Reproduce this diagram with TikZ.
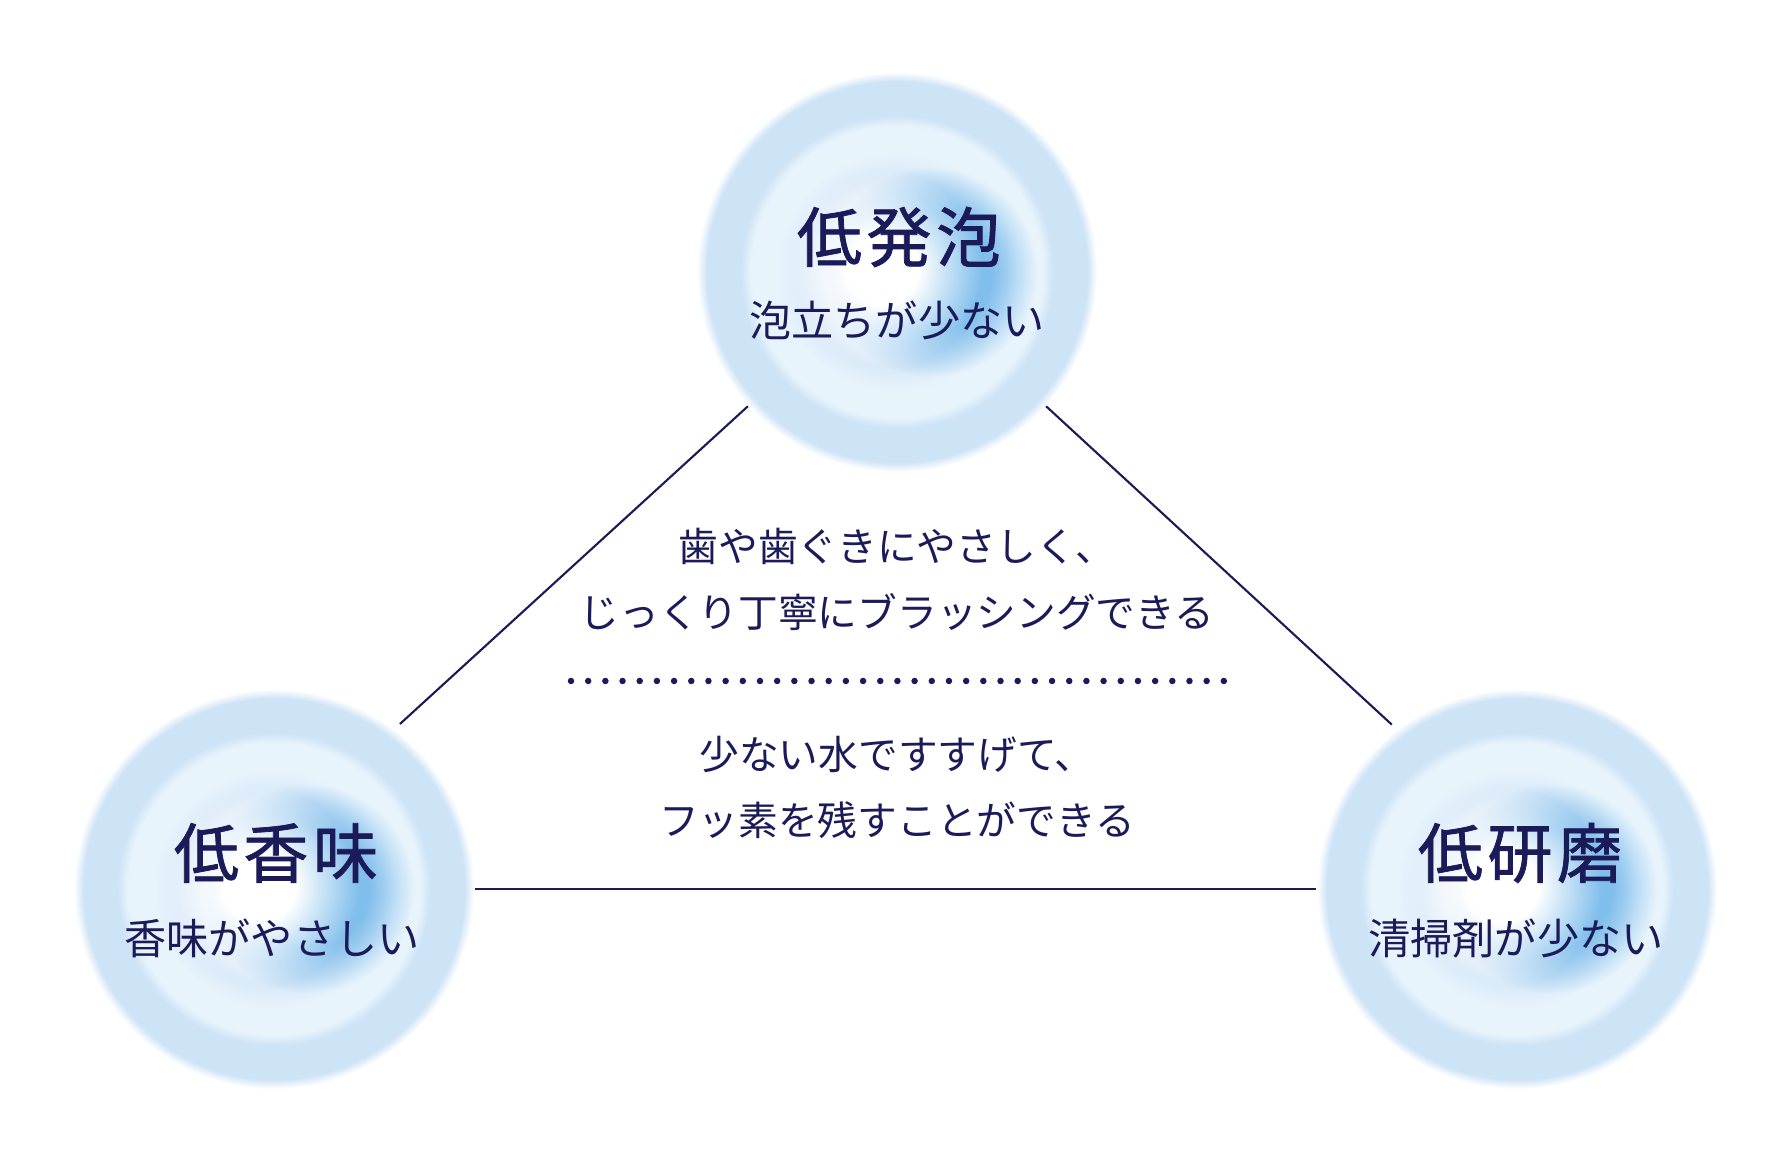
\documentclass[tikz,border=0pt]{standalone}
\usepackage{fontspec}
\setmainfont{Noto Sans CJK JP}
\usepackage{tikz}
\usetikzlibrary{
    arrows.meta,
    calc,
    positioning,
    fadings
}
\definecolor{ink}{RGB}{27,27,89}
\definecolor{bubbleout}{RGB}{205,227,246}
\definecolor{bubblering}{RGB}{232,244,252}
\definecolor{bubblemid}{RGB}{216,233,248}
\definecolor{bubblepale}{RGB}{230,239,250}
\definecolor{bubbleblue}{RGB}{128,190,236}
\pgfdeclareradialshading{bubblerings}{\pgfpointorigin}{%
    color(0bp)=(bubblepale); color(12bp)=(bubblemid);
    color(15bp)=(bubblering); color(18.2bp)=(bubblering);
    color(19.6bp)=(bubbleout); color(23.8bp)=(bubbleout);
    color(25bp)=(white); color(50bp)=(white)}
\pgfdeclareradialshading{softdisk}{\pgfpointorigin}{%
    color(0bp)=(pgftransparent!0); color(9bp)=(pgftransparent!0);
    color(25bp)=(pgftransparent!100)}
\pgfdeclarefading{softdisk}{\pgfuseshading{softdisk}}
\pgfdeclareradialshading{blueglow}{\pgfpointorigin}{%
    color(0bp)=(pgftransparent!0); color(14bp)=(pgftransparent!0);
    color(25bp)=(pgftransparent!100)}
\pgfdeclarefading{blueglow}{\pgfuseshading{blueglow}}
\tikzset{
    line cap=round,
    line join=round,
    bubble/.style={
        circle,
        minimum size=4cm,
        inner sep=0pt
    },
    bubbletitle/.style={
        font=\fontsize{18.5}{20}\selectfont\addfontfeatures{LetterSpace=7,FakeBold=1.2},
        text=ink
    },
    bubblesub/.style={
        font=\fontsize{12}{14}\selectfont,
        text=ink
    },
    note/.style={
        font=\fontsize{11.3}{19}\selectfont,
        text=ink,
        align=center
    },
    link/.style={
        draw=ink,
        line width=0.6pt
    },
    dotrule/.style={
        draw=ink,
        line width=0.065cm,
        line cap=round,
        dash pattern=on 0pt off 0.1718cm
    }
}

\begin{document}
\begin{tikzpicture}
\useasboundingbox (0,0) rectangle (17.9,11.61);
\path[fill=white] (0,0) rectangle (17.9,11.61);

% Bubbles
\foreach \x/\y in {8.97/8.89, 2.74/2.72, 15.17/2.72} {
    \begin{scope}[shift={(\x,\y)}]
        \shade[shading=bubblerings] (0,0) circle (2);
        \fill[bubbleblue, path fading=blueglow] (0.35,0.0) circle (1.05);
        \fill[white, path fading=softdisk] (-0.15,0.03) circle (1.0);
    \end{scope}
}

\node[bubble] (foam) at (8.97,8.89) {};
\node[bubble] (taste) at (2.74,2.72) {};
\node[bubble] (polish) at (15.17,2.72) {};

\draw[link, shorten >=0.07cm] (foam.222) -- (taste.53);
\draw[link, shorten >=0.06cm] (foam.318) -- (polish.127);
\draw[link] (taste) -- (polish);

\node[bubbletitle] (foamtitle) at (8.99,9.24) {低発泡};
\node[bubblesub] (foamsub) at (8.97,8.41) {泡立ちが少ない};
\node[bubbletitle] (tastetitle) at (2.76,3.08) {低香味};
\node[bubblesub] (tastesub) at (2.72,2.23) {香味がやさしい};
\node[bubbletitle] (polishtitle) at (15.20,3.08) {低研磨};
\node[bubblesub] (polishsub) at (15.16,2.23) {清掃剤が少ない};

% Center notes
\node[note] (gentle) at (8.97,5.815) {歯や歯ぐきにやさしく、\\じっくり丁寧にブラッシングできる};
\coordinate (dotl) at (5.71,4.80);
\coordinate (dotr) at (12.243,4.80);
\draw[dotrule] (dotl) -- (dotr);
\node[note] (rinse) at (8.97,3.735) {少ない水ですすげて、\\フッ素を残すことができる};

\end{tikzpicture}
\end{document}
